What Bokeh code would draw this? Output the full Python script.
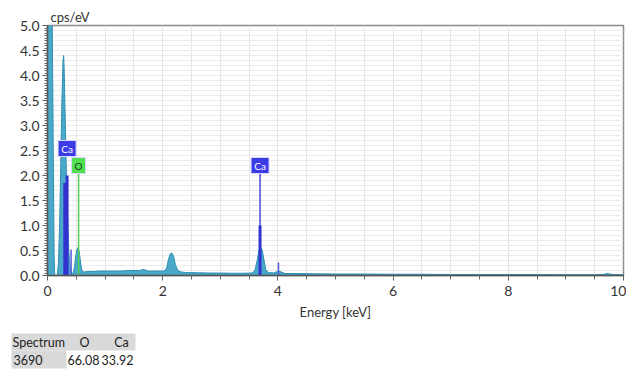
from bokeh.plotting import figure
from bokeh.layouts import column
from bokeh.models import (Range1d, SingleIntervalTicker, Grid, PrintfTickFormatter,
                          ColumnDataSource)
from bokeh.core.properties import value
from bokeh.embed import file_html
from bokeh.resources import INLINE

FONT = "Lato"
TEXT = "#333333"

# EDS spectrum (energy in keV, intensity in cps/eV)
energy_kev = [0.00, 0.08, 0.10, 0.115, 0.125, 0.17, 0.19, 0.21, 0.23, 0.25, 0.27, 0.28,
              0.29, 0.31, 0.33, 0.35, 0.37, 0.39, 0.41, 0.43, 0.45, 0.47, 0.49, 0.51,
              0.53, 0.55, 0.57, 0.59, 0.61, 0.64, 0.70, 0.80, 0.90, 1.00, 1.10, 1.20,
              1.30, 1.40, 1.50, 1.60, 1.66, 1.70, 1.75, 1.85, 1.95, 2.03, 2.07, 2.10,
              2.13, 2.16, 2.19, 2.22, 2.26, 2.32, 2.40, 2.60, 2.80, 3.00, 3.20, 3.40,
              3.55, 3.60, 3.64, 3.67, 3.70, 3.73, 3.76, 3.79, 3.83, 3.92, 3.97, 4.01,
              4.06, 4.12, 4.30, 4.60, 5.00, 5.50, 6.00, 6.50, 7.00, 7.50, 8.00, 8.50,
              9.00, 9.50, 9.65, 9.72, 9.80, 10.00]
counts_cps = [5.40, 5.40, 2.50, 0.40, 0.00, 0.00, 0.25, 1.00, 2.20, 3.50, 4.30, 4.40,
              4.10, 3.00, 1.90, 1.10, 0.50, 0.20, 0.08, 0.04, 0.06, 0.18, 0.38, 0.52,
              0.56, 0.48, 0.30, 0.14, 0.08, 0.07, 0.08, 0.08, 0.09, 0.09, 0.09, 0.09,
              0.09, 0.10, 0.10, 0.10, 0.12, 0.11, 0.09, 0.09, 0.09, 0.09, 0.15, 0.32,
              0.43, 0.45, 0.38, 0.22, 0.10, 0.07, 0.06, 0.055, 0.05, 0.05, 0.045, 0.045,
              0.05, 0.10, 0.30, 0.50, 0.57, 0.50, 0.30, 0.12, 0.06, 0.05, 0.07, 0.09,
              0.07, 0.04, 0.04, 0.035, 0.03, 0.03, 0.025, 0.025, 0.02, 0.02, 0.02, 0.02,
              0.015, 0.015, 0.02, 0.04, 0.02, 0.015]

# element line markers
ca_major_kev = [0.30, 0.34, 3.69]
ca_major_cps = [1.85, 2.00, 1.00]
ca_minor_kev = [0.41, 4.01]
ca_minor_cps = [0.52, 0.26]

# element tags and their stems
tag_text = ["Ca", "O", "Ca"]
tag_kev = [0.34, 0.54, 3.69]
tag_cps = [2.54, 2.20, 2.20]
tag_fill = ["#3b3be6", "#4fe04f", "#3b3be6"]
tag_text_color = ["#ffffff", "#1a3a1a", "#ffffff"]
tag_width = [18, 14, 18]
stem_kev = [0.54, 3.69]
stem_cps = [2.20, 2.20]
stem_color = ["#55d055", "#4a4ae0"]

# quantification table
table_header = ["Spectrum", "O", "Ca"]
table_row = ["3690", "66.08", "33.92"]

p = figure(width=626, height=325, output_backend="svg", toolbar_location=None,
           x_range=Range1d(0, 10), y_range=Range1d(0, 5),
           min_border_left=47, min_border_right=3, min_border_top=25, min_border_bottom=50)
p.frame_align = False
p.background_fill_color = "white"
p.border_fill_color = "white"
p.outline_line_color = "#8a8a8a"
p.outline_line_width = 1.5

p.title.text = "cps/eV"
p.title.align = "left"
p.title.offset = 3
p.title.standoff = 1
p.title.text_font = FONT
p.title.text_font_size = "13px"
p.title.text_font_style = "normal"
p.title.text_color = TEXT

# axes
p.xaxis.ticker = SingleIntervalTicker(interval=2, num_minor_ticks=4)
p.yaxis.ticker = SingleIntervalTicker(interval=0.5, num_minor_ticks=10)
p.yaxis.formatter = PrintfTickFormatter(format="%.1f")
p.xaxis.axis_label = "Energy [keV]"
for ax in (p.xaxis, p.yaxis):
    ax.axis_line_color = "#555555"
    ax.axis_line_width = 1.5
    ax.major_tick_line_color = "#555555"
    ax.minor_tick_line_color = "#666666"
    ax.major_tick_in = 0
    ax.minor_tick_in = 0
    ax.major_label_text_font = FONT
    ax.major_label_text_font_size = "14px"
    ax.major_label_text_color = TEXT
    ax.axis_label_text_font = FONT
    ax.axis_label_text_font_size = "13px"
    ax.axis_label_text_font_style = "normal"
    ax.axis_label_text_color = TEXT
p.xaxis.major_tick_out = 5
p.xaxis.minor_tick_out = 4
p.yaxis.major_tick_out = 5
p.yaxis.minor_tick_out = 3
p.xaxis.major_label_standoff = 5
p.xaxis.axis_label_standoff = 5
p.yaxis.major_label_standoff = 3

# grid
p.xgrid.grid_line_color = "#e2e2e2"
p.xgrid.minor_grid_line_color = "#e6e6e6"
p.ygrid.grid_line_color = None
p.add_layout(Grid(dimension=1, ticker=SingleIntervalTicker(interval=0.1),
                  grid_line_color="#ececec"))

# spectrum
p.varea(x=energy_kev, y1=[0] * len(energy_kev), y2=counts_cps,
        fill_color="#4aa8c8", fill_alpha=1.0)
p.line(x=energy_kev, y=counts_cps, line_color="#2f8fb2", line_width=1)
p.line(x=[0, 10], y=[0, 0], line_color="#2f8fb2", line_width=1.5)

# element markers
p.segment(x0=stem_kev, y0=[0] * len(stem_kev), x1=stem_kev, y1=stem_cps,
          line_color=stem_color, line_width=1.5)
p.segment(x0=ca_major_kev, y0=[0] * len(ca_major_kev), x1=ca_major_kev, y1=ca_major_cps,
          line_color="#3232d0", line_width=3)
p.segment(x0=ca_minor_kev, y0=[0] * len(ca_minor_kev), x1=ca_minor_kev, y1=ca_minor_cps,
          line_color="#5a5ae0", line_width=1.5)

tags = ColumnDataSource(dict(x=tag_kev, y=tag_cps, t=tag_text, fill=tag_fill,
                             tc=tag_text_color, w=tag_width))
p.rect(x="x", y="y", width="w", height=16, width_units="screen", height_units="screen",
       source=tags, fill_color="fill", line_color="#d8d8ff", line_width=1)
p.text(x="x", y="y", text="t", source=tags, text_color="tc", text_font=value(FONT),
       text_font_size="10px", text_align="center", text_baseline="middle")

# quantification table below the chart
t = figure(width=626, height=44, output_backend="svg", toolbar_location=None,
           x_range=Range1d(0, 626), y_range=Range1d(44, 0),
           x_axis_type=None, y_axis_type=None, min_border=0)
t.frame_align = False
t.outline_line_color = None
t.xgrid.visible = False
t.ygrid.visible = False
t.background_fill_color = "white"
t.border_fill_color = "white"
t.quad(left=[11, 11], right=[135, 66], top=[8, 25], bottom=[25, 43],
       fill_color="#d9d9d9", line_color=None)
col_align = ["left", "center", "center"]
t.text(x=[12, 84, 121], y=[17] * 3, text=table_header, text_align=col_align,
       text_baseline="middle", text_font=value(FONT), text_font_size="12.5px",
       text_color="#222222")
t.text(x=[13, 83, 117], y=[34] * 3, text=table_row, text_align=col_align,
       text_baseline="middle", text_font=value(FONT), text_font_size="12.5px",
       text_color="#222222")

layout = column(p, t, spacing=0)
open("out.html", "w").write(file_html(layout, INLINE))
